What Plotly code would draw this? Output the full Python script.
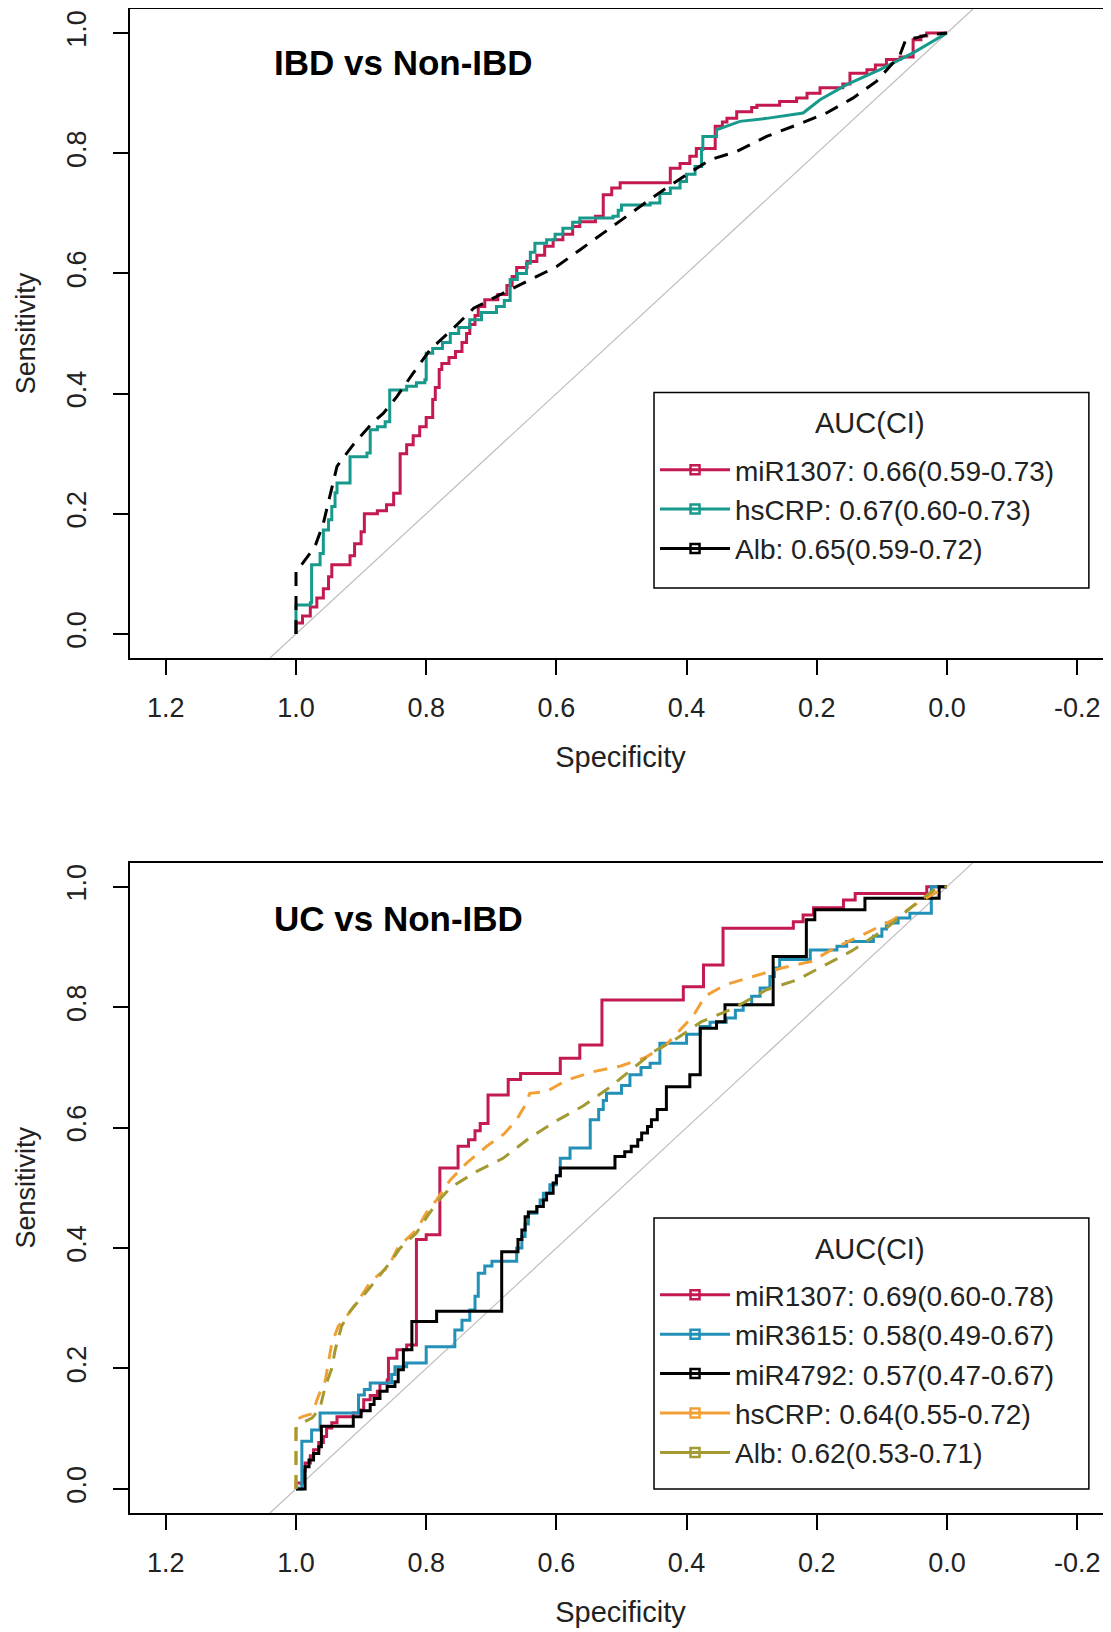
import plotly.graph_objects as go

# ---------------- data (specificity, sensitivity) ----------------
# Panel A: IBD vs Non-IBD
a_mir1307_spec = [1.0,1.0,0.99,0.99,0.978,0.978,0.968,0.968,0.958,0.958,0.95,0.95,0.945,0.945,0.917,0.917,0.91,0.91,0.9,0.9,0.895,0.895,0.875,0.875,0.861,0.861,0.85,0.85,0.84,0.84,0.83,0.83,0.82,0.82,0.81,0.81,0.8,0.8,0.79,0.79,0.786,0.786,0.78,0.78,0.776,0.776,0.765,0.765,0.755,0.755,0.745,0.745,0.738,0.738,0.733,0.733,0.725,0.725,0.72,0.72,0.71,0.71,0.69,0.69,0.676,0.676,0.668,0.668,0.661,0.661,0.645,0.645,0.63,0.63,0.618,0.618,0.605,0.605,0.59,0.59,0.575,0.575,0.564,0.564,0.54,0.54,0.528,0.528,0.515,0.515,0.502,0.502,0.425,0.425,0.41,0.41,0.395,0.395,0.385,0.385,0.356,0.356,0.345,0.345,0.338,0.338,0.323,0.323,0.3,0.3,0.292,0.292,0.257,0.257,0.231,0.231,0.215,0.215,0.195,0.195,0.16,0.16,0.149,0.149,0.123,0.123,0.11,0.11,0.093,0.093,0.072,0.072,0.052,0.052,0.04,0.04,0.031,0.031,0.0]
a_mir1307_sens = [0.0,0.018,0.018,0.03,0.03,0.045,0.045,0.06,0.06,0.075,0.075,0.095,0.095,0.115,0.115,0.13,0.13,0.15,0.15,0.17,0.17,0.2,0.2,0.205,0.205,0.215,0.215,0.234,0.234,0.3,0.3,0.315,0.315,0.33,0.33,0.345,0.345,0.36,0.36,0.39,0.39,0.41,0.41,0.44,0.44,0.45,0.45,0.46,0.46,0.47,0.47,0.485,0.485,0.5,0.5,0.515,0.515,0.53,0.53,0.545,0.545,0.556,0.556,0.565,0.565,0.58,0.58,0.595,0.595,0.61,0.61,0.62,0.62,0.63,0.63,0.645,0.645,0.656,0.656,0.665,0.665,0.678,0.678,0.686,0.686,0.695,0.695,0.731,0.731,0.742,0.742,0.751,0.751,0.775,0.775,0.783,0.783,0.795,0.795,0.808,0.808,0.845,0.845,0.852,0.852,0.858,0.858,0.869,0.869,0.876,0.876,0.88,0.88,0.886,0.886,0.892,0.892,0.9,0.9,0.909,0.909,0.915,0.915,0.933,0.933,0.939,0.939,0.947,0.947,0.956,0.956,0.96,0.96,0.989,0.989,0.995,0.995,1.0,1.0]

a_hscrp_spec = [1.0,1.0,0.978,0.978,0.976,0.976,0.963,0.963,0.958,0.958,0.95,0.95,0.945,0.945,0.94,0.94,0.937,0.937,0.917,0.917,0.917,0.891,0.891,0.886,0.886,0.875,0.875,0.863,0.863,0.856,0.856,0.83,0.83,0.815,0.815,0.802,0.802,0.8,0.8,0.79,0.79,0.775,0.775,0.763,0.763,0.75,0.75,0.733,0.733,0.715,0.715,0.692,0.692,0.68,0.68,0.671,0.671,0.66,0.66,0.646,0.646,0.64,0.64,0.633,0.633,0.615,0.615,0.602,0.602,0.59,0.59,0.575,0.575,0.564,0.564,0.513,0.513,0.505,0.505,0.5,0.5,0.456,0.456,0.441,0.441,0.425,0.425,0.41,0.41,0.4,0.4,0.387,0.387,0.377,0.377,0.375,0.375,0.354,0.354,0.318,0.277,0.221,0.195,0.154,0.103,0.052,0.0]
a_hscrp_sens = [0.0,0.048,0.048,0.052,0.052,0.115,0.115,0.134,0.134,0.173,0.173,0.19,0.19,0.212,0.212,0.235,0.235,0.251,0.251,0.259,0.295,0.295,0.301,0.301,0.34,0.34,0.345,0.345,0.353,0.353,0.406,0.406,0.412,0.412,0.418,0.418,0.423,0.423,0.467,0.467,0.475,0.475,0.485,0.485,0.5,0.5,0.51,0.51,0.523,0.523,0.535,0.535,0.545,0.545,0.555,0.555,0.59,0.59,0.6,0.6,0.617,0.617,0.635,0.635,0.65,0.65,0.656,0.656,0.665,0.665,0.675,0.675,0.685,0.685,0.692,0.692,0.695,0.695,0.705,0.705,0.714,0.714,0.717,0.717,0.733,0.733,0.742,0.742,0.753,0.753,0.765,0.765,0.778,0.778,0.806,0.806,0.828,0.828,0.839,0.853,0.858,0.867,0.889,0.914,0.939,0.967,1.0]

a_alb_spec = [1.0,1.0,0.995,0.985,0.971,0.958,0.945,0.937,0.912,0.881,0.866,0.845,0.82,0.794,0.758,0.727,0.682,0.641,0.6,0.564,0.528,0.482,0.446,0.405,0.364,0.323,0.277,0.231,0.185,0.144,0.108,0.083,0.072,0.063,0.047,0.03,0.0]
a_alb_sens = [0.0,0.107,0.11,0.125,0.145,0.184,0.245,0.279,0.315,0.353,0.367,0.395,0.434,0.473,0.509,0.542,0.567,0.589,0.611,0.639,0.667,0.703,0.731,0.761,0.789,0.803,0.828,0.847,0.867,0.892,0.92,0.95,0.964,0.99,0.992,0.997,1.0]

# Panel B: UC vs Non-IBD
b_mir1307_spec = [1.0,1.0,0.99,0.99,0.986,0.986,0.978,0.978,0.973,0.973,0.965,0.965,0.958,0.958,0.953,0.953,0.945,0.945,0.937,0.937,0.912,0.912,0.9,0.9,0.896,0.896,0.886,0.886,0.875,0.875,0.871,0.871,0.86,0.86,0.858,0.858,0.845,0.845,0.83,0.83,0.815,0.815,0.8,0.8,0.779,0.779,0.751,0.751,0.735,0.735,0.725,0.725,0.717,0.717,0.705,0.705,0.674,0.674,0.655,0.655,0.594,0.594,0.564,0.564,0.53,0.53,0.405,0.405,0.374,0.374,0.344,0.344,0.236,0.236,0.221,0.221,0.205,0.205,0.159,0.159,0.141,0.141,0.031,0.031,0.0]
b_mir1307_sens = [0.0,0.01,0.01,0.03,0.03,0.043,0.043,0.055,0.055,0.065,0.065,0.077,0.077,0.087,0.087,0.101,0.101,0.11,0.11,0.12,0.12,0.126,0.126,0.131,0.131,0.148,0.148,0.155,0.155,0.162,0.162,0.175,0.175,0.181,0.181,0.217,0.217,0.231,0.231,0.239,0.239,0.414,0.414,0.422,0.422,0.533,0.533,0.569,0.569,0.58,0.58,0.595,0.595,0.607,0.607,0.654,0.654,0.68,0.68,0.69,0.69,0.715,0.715,0.737,0.737,0.812,0.812,0.834,0.834,0.87,0.87,0.931,0.931,0.942,0.942,0.953,0.953,0.965,0.965,0.978,0.978,0.989,0.989,1.0,1.0]

b_mir3615_spec = [1.0,0.991,0.991,0.976,0.976,0.963,0.963,0.904,0.904,0.895,0.895,0.886,0.886,0.853,0.853,0.848,0.848,0.83,0.83,0.8,0.8,0.756,0.756,0.745,0.745,0.733,0.733,0.725,0.725,0.72,0.72,0.71,0.71,0.699,0.699,0.661,0.661,0.653,0.653,0.648,0.648,0.643,0.643,0.63,0.63,0.625,0.625,0.62,0.62,0.61,0.61,0.6,0.6,0.594,0.594,0.579,0.579,0.548,0.548,0.535,0.535,0.528,0.528,0.523,0.523,0.5,0.5,0.487,0.487,0.47,0.47,0.456,0.456,0.441,0.441,0.4,0.4,0.379,0.379,0.364,0.364,0.339,0.339,0.325,0.325,0.313,0.313,0.3,0.3,0.287,0.287,0.272,0.272,0.265,0.265,0.257,0.257,0.21,0.21,0.169,0.169,0.154,0.154,0.113,0.113,0.1,0.1,0.093,0.093,0.075,0.075,0.057,0.057,0.024,0.024,0.0]
b_mir3615_sens = [0.0,0.0,0.079,0.079,0.098,0.098,0.126,0.126,0.156,0.156,0.165,0.165,0.176,0.176,0.19,0.19,0.203,0.203,0.209,0.209,0.236,0.236,0.264,0.264,0.28,0.28,0.297,0.297,0.32,0.32,0.358,0.358,0.37,0.37,0.378,0.378,0.4,0.4,0.419,0.419,0.44,0.44,0.458,0.458,0.469,0.469,0.48,0.48,0.491,0.491,0.505,0.505,0.52,0.52,0.549,0.549,0.566,0.566,0.613,0.613,0.63,0.63,0.645,0.645,0.657,0.657,0.67,0.67,0.688,0.688,0.7,0.7,0.707,0.707,0.74,0.74,0.755,0.755,0.768,0.768,0.775,0.775,0.782,0.782,0.795,0.795,0.804,0.804,0.818,0.818,0.832,0.832,0.851,0.851,0.865,0.865,0.879,0.879,0.895,0.895,0.901,0.901,0.909,0.909,0.918,0.918,0.93,0.93,0.94,0.94,0.948,0.948,0.956,0.956,1.0,1.0]

b_mir4792_spec = [1.0,0.986,0.986,0.98,0.98,0.973,0.973,0.965,0.965,0.961,0.961,0.912,0.912,0.9,0.9,0.886,0.886,0.88,0.88,0.871,0.871,0.86,0.86,0.848,0.848,0.843,0.843,0.835,0.835,0.822,0.822,0.784,0.784,0.684,0.684,0.659,0.659,0.653,0.653,0.648,0.648,0.643,0.643,0.63,0.63,0.62,0.62,0.615,0.615,0.605,0.605,0.6,0.6,0.594,0.594,0.51,0.51,0.495,0.495,0.485,0.485,0.475,0.475,0.469,0.469,0.46,0.46,0.454,0.454,0.445,0.445,0.431,0.431,0.395,0.395,0.379,0.379,0.354,0.354,0.341,0.341,0.267,0.267,0.216,0.216,0.203,0.203,0.126,0.126,0.012,0.012,0.0]
b_mir4792_sens = [0.0,0.0,0.037,0.037,0.048,0.048,0.059,0.059,0.07,0.07,0.104,0.104,0.12,0.12,0.13,0.13,0.14,0.14,0.15,0.15,0.162,0.162,0.17,0.17,0.178,0.178,0.198,0.198,0.231,0.231,0.278,0.278,0.295,0.295,0.394,0.394,0.414,0.414,0.43,0.43,0.452,0.452,0.46,0.46,0.469,0.469,0.48,0.48,0.491,0.491,0.508,0.508,0.52,0.52,0.533,0.533,0.552,0.552,0.56,0.56,0.569,0.569,0.58,0.58,0.591,0.591,0.602,0.602,0.613,0.613,0.63,0.63,0.668,0.668,0.688,0.688,0.765,0.765,0.776,0.776,0.804,0.804,0.884,0.884,0.945,0.945,0.962,0.962,0.981,0.981,1.0,1.0]

b_hscrp_spec = [1.0,1.0,0.99,0.975,0.966,0.955,0.945,0.935,0.92,0.9,0.885,0.858,0.843,0.815,0.8,0.784,0.763,0.738,0.707,0.68,0.661,0.646,0.641,0.615,0.584,0.543,0.502,0.464,0.431,0.39,0.372,0.341,0.298,0.254,0.208,0.17,0.124,0.083,0.041,0.0]
b_hscrp_sens = [0.0,0.115,0.12,0.125,0.153,0.18,0.242,0.27,0.29,0.32,0.345,0.369,0.402,0.43,0.458,0.48,0.513,0.541,0.569,0.59,0.613,0.641,0.657,0.66,0.679,0.693,0.702,0.716,0.738,0.785,0.818,0.837,0.851,0.865,0.876,0.9,0.923,0.945,0.976,1.0]

b_alb_spec = [1.0,1.0,0.99,0.975,0.963,0.955,0.945,0.94,0.93,0.917,0.886,0.856,0.84,0.815,0.8,0.784,0.763,0.723,0.682,0.641,0.602,0.559,0.518,0.482,0.451,0.418,0.377,0.328,0.277,0.231,0.19,0.147,0.093,0.047,0.016,0.0]
b_alb_sens = [0.0,0.1,0.11,0.118,0.135,0.17,0.2,0.23,0.27,0.295,0.335,0.375,0.4,0.425,0.45,0.475,0.5,0.527,0.549,0.583,0.61,0.636,0.667,0.699,0.726,0.746,0.776,0.798,0.829,0.845,0.868,0.893,0.931,0.973,0.998,1.0]

panel_titles = ["IBD vs Non-IBD", "UC vs Non-IBD"]
legend_title = "AUC(CI)"
a_labels = ["miR1307: 0.66(0.59-0.73)", "hsCRP: 0.67(0.60-0.73)", "Alb: 0.65(0.59-0.72)"]
b_labels = ["miR1307: 0.69(0.60-0.78)", "miR3615: 0.58(0.49-0.67)", "miR4792: 0.57(0.47-0.67)",
            "hsCRP: 0.64(0.55-0.72)", "Alb: 0.62(0.53-0.71)"]
x_ticks = [1.2, 1.0, 0.8, 0.6, 0.4, 0.2, 0.0, -0.2]
y_ticks = [0.0, 0.2, 0.4, 0.6, 0.8, 1.0]
chance_spec = [1.04, -0.04]
chance_sens = [-0.04, 1.04]

# ---------------- styles ----------------
CRIMSON = "#C41A50"
TEAL = "#17998B"
BLUE = "#2390B8"
BLACK = "#000000"
ORANGE = "#F2A035"
OLIVE = "#A39B32"
FONT = "Liberation Sans"
DASH = "14px,10px"

fig = go.Figure()

def add_panel(xa, ya, legend_name, series, labels):
    fig.add_trace(go.Scatter(x=chance_spec, y=chance_sens, mode="lines",
                             line=dict(color="#BDBDBD", width=1.2),
                             xaxis=xa, yaxis=ya, showlegend=False, hoverinfo="skip"))
    for (xs, ys, col, dash) in series:
        fig.add_trace(go.Scatter(x=xs, y=ys, mode="lines",
                                 line=dict(color=col, width=3, dash=dash),
                                 xaxis=xa, yaxis=ya, showlegend=False))
    # legend entries (line + small open marker, as in the original legend)
    for (xs, ys, col, dash), lab in zip(series, labels):
        fig.add_trace(go.Scatter(x=[None], y=[None], mode="lines+markers", name=lab,
                                 line=dict(color=col, width=3),
                                 marker=dict(symbol="square-open", size=9,
                                             color=col, line=dict(width=2.5, color=col)),
                                 xaxis=xa, yaxis=ya, legend=legend_name))

add_panel("x", "y", "legend", [
    (a_mir1307_spec, a_mir1307_sens, CRIMSON, "solid"),
    (a_hscrp_spec, a_hscrp_sens, TEAL, "solid"),
    (a_alb_spec, a_alb_sens, BLACK, DASH),
], a_labels)
add_panel("x2", "y2", "legend2", [
    (b_mir1307_spec, b_mir1307_sens, CRIMSON, "solid"),
    (b_mir3615_spec, b_mir3615_sens, BLUE, "solid"),
    (b_mir4792_spec, b_mir4792_sens, BLACK, "solid"),
    (b_hscrp_spec, b_hscrp_sens, ORANGE, DASH),
    (b_alb_spec, b_alb_sens, OLIVE, DASH),
], b_labels)

def xaxis_style(anchor):
    return dict(anchor=anchor, domain=[0, 1], range=[1.255, -0.252],
                tickmode="array", tickvals=x_ticks, ticktext=[f"{v:.1f}" for v in x_ticks],
                ticks="outside", ticklen=15, tickwidth=1.5, tickcolor="black",
                showline=True, linewidth=1.5, linecolor="black", mirror=True,
                showgrid=False, zeroline=False, ticklabelstandoff=10,
                tickfont=dict(family=FONT, size=27, color="#222"),
                title=dict(text="Specificity", font=dict(family=FONT, size=29, color="#222"),
                           standoff=25))

def yaxis_style(anchor, domain):
    return dict(anchor=anchor, domain=domain, range=[-0.04, 1.04],
                tickmode="array", tickvals=y_ticks, ticktext=[f"{v:.1f}" for v in y_ticks],
                tickangle=-90,
                ticks="outside", ticklen=15, tickwidth=1.5, tickcolor="black",
                showline=True, linewidth=1.5, linecolor="black", mirror=False,
                showgrid=False, zeroline=False, ticklabelstandoff=16,
                tickfont=dict(family=FONT, size=27, color="#222"),
                title=dict(text="Sensitivity", font=dict(family=FONT, size=27, color="#222"),
                           standoff=19))

def legend_style(x, y):
    return dict(x=x, y=y, xanchor="left", yanchor="top",
                bgcolor="rgba(0,0,0,0)", borderwidth=0,
                font=dict(family=FONT, size=28, color="#222"),
                itemwidth=70)

def title_ann(text, xref, yref, x, y):
    return dict(text=f"<b>{text}</b>", x=x, y=y, xref=xref, yref=yref,
                showarrow=False, xanchor="center", yanchor="middle",
                font=dict(family=FONT, size=35, color="black"))

def legend_title_ann(xref, yref, x, y):
    return dict(text=legend_title, x=x, y=y, xref=xref, yref=yref,
                showarrow=False, xanchor="center", yanchor="middle",
                font=dict(family=FONT, size=29, color="#222"))

fig.update_layout(
    width=1103, height=1624,
    margin=dict(l=122, r=0, t=1, b=119),
    paper_bgcolor="white", plot_bgcolor="white",
    xaxis=xaxis_style("y"),
    yaxis=yaxis_style("x", [0.5685, 1.0]),
    xaxis2=xaxis_style("y2"),
    yaxis2=yaxis_style("x2", [0.0, 0.4324]),
    legend=legend_style(0.5352, 0.7101),
    legend2=legend_style(0.5352, 0.1615),
    shapes=[
        dict(type="rect", xref="x", yref="y", x0=0.450, x1=-0.218, y0=0.0766, y1=0.402,
             line=dict(color="black", width=1.5), fillcolor="white", layer="below"),
        dict(type="rect", xref="x2", yref="y2", x0=0.450, x1=-0.218, y0=0.0, y1=0.450,
             line=dict(color="black", width=1.5), fillcolor="white", layer="below"),
    ],
    annotations=[
        title_ann(panel_titles[0], "x", "y", 0.835, 0.951),
        title_ann(panel_titles[1], "x2", "y2", 0.842, 0.948),
        legend_title_ann("x", "y", 0.118, 0.351),
        legend_title_ann("x2", "y2", 0.118, 0.398),
    ],
)

fig.write_html("out.html")
